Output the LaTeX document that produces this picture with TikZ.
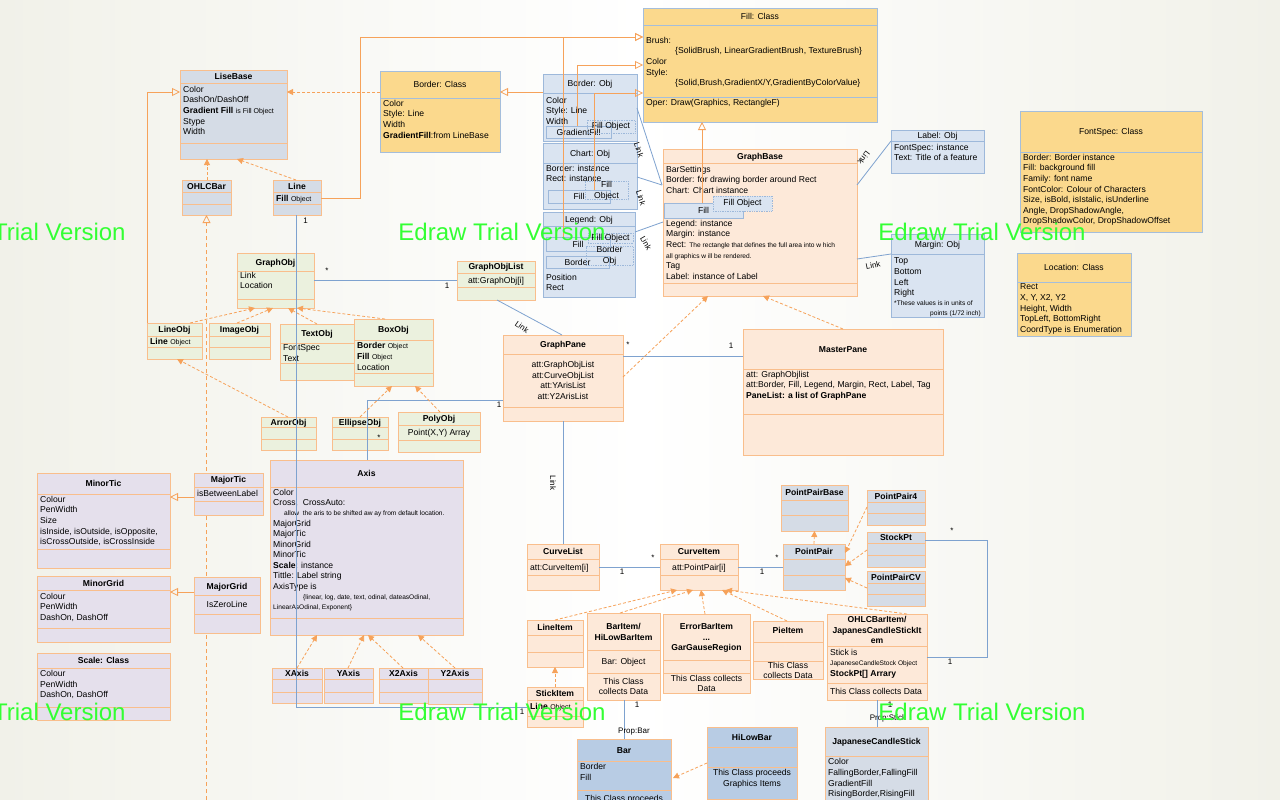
\documentclass[tikz,border=0pt]{standalone}
\usepackage{fontspec}
\setmainfont{Liberation Sans}
\usetikzlibrary{arrows.meta,fit,calc}
\definecolor{bgc}{HTML}{F1F1E9}
\definecolor{cY}{HTML}{FBD98D}
\definecolor{cYb}{HTML}{A5BEDB}
\definecolor{cOB}{HTML}{DAE4F1}
\definecolor{cOBb}{HTML}{9DB8DA}
\definecolor{cG}{HTML}{D5DCE6}
\definecolor{cP}{HTML}{FDE9D9}
\definecolor{cGr}{HTML}{EBF1DE}
\definecolor{cL}{HTML}{E5E0EC}
\definecolor{cB}{HTML}{B8CCE4}
\definecolor{cOr}{HTML}{F9BE8C}
\definecolor{cAr}{HTML}{F6A25A}
\definecolor{cBl}{HTML}{7EA2CF}
\definecolor{cWm}{HTML}{33FF33}
\newcommand\bodyfont{\fontsize{8.6}{10.6}\selectfont}
\newcommand\smf{\fontsize{6.6}{10.6}\selectfont}
\newcommand\smo{\fontsize{7}{10.6}\selectfont}
\tikzset{
  bxbase/.style={inner sep=0pt, outer sep=0pt, line width=0.8pt},
  yel/.style={bxbase, fill=cY, draw=cYb},
  obj/.style={bxbase, fill=cOB, draw=cOBb},
  gry/.style={bxbase, fill=cG, draw=cOr},
  pch/.style={bxbase, fill=cP, draw=cOr},
  grn/.style={bxbase, fill=cGr, draw=cOr},
  lav/.style={bxbase, fill=cL, draw=cOr},
  bbl/.style={bxbase, fill=cB, draw=cOr},
  dotb/.style={draw=cOBb, densely dotted, line width=0.7pt, inner sep=0pt},
  ttl/.style={anchor=base, inner sep=0pt, font=\bodyfont\bfseries},
  ttn/.style={anchor=base, inner sep=0pt},
  att/.style={anchor=north west, inner sep=0pt, align=left},
  atc/.style={anchor=north, inner sep=0pt, align=center},
  lbl/.style={inner sep=0pt, font=\fontsize{8}{9}\selectfont},
  inh/.style={draw=cAr, line width=0.8pt, dash pattern=on 3pt off 2pt, -{Triangle[length=6pt,width=6pt]}},
  gen/.style={draw=cAr, line width=0.8pt, -{Triangle[open,length=8pt,width=8pt]}},
  asc/.style={draw=cBl, line width=0.8pt},
  wm/.style={inner sep=0pt, anchor=base, text=cWm, font=\fontsize{24}{24}\selectfont}
}
\newcommand\ubox[8]{\node[#2, fit={(#3,#4)(#5,#6)}] (#1) {};
  \draw[#2, fill=none] (#3,#7) -- (#5,#7) (#3,#8) -- (#5,#8);}
\begin{document}
\begin{tikzpicture}[x=1pt,y=-1pt,font=\bodyfont]
\useasboundingbox (0,0) rectangle (1280,800);
\clip (0,0) rectangle (1280,800);
\fill[left color=bgc, right color=bgc, middle color=white] (0,0) rectangle (1280,800);
\coordinate (bot1) at (206.5,800);
% ---------- boxes ----------
\ubox{OB}{gry}{182}{180}{231}{215}{192}{204}
\draw[gen, dash pattern=on 4pt off 3pt] (bot1) -- ($(OB.south west)+(24.5,0)$);
\ubox{LB}{gry}{180}{70}{287}{159}{83.3}{143.3}
\node[ttl] (LBt) at (233.5,79.8) {LiseBase};
\node[att] (LBa) at (183,85.9) {Color\\DashOn/DashOff\\\textbf{Gradient Fill} {\smo is Fill Object}\\Stype\\Width};
\node[ttl] (OBt) at (206.5,189.1) {OHLCBar};
\ubox{LN}{gry}{273}{180}{321}{215}{192}{204}
\node[ttl] (LNt) at (297,189.1) {Line};
\node[att] (LNa) at (276,194.8) {\textbf{Fill} {\smo Object}};

\ubox{BC}{yel}{380}{71}{500}{152}{98}{98}
\node[ttn] (BCt) at (440,87.6) {Border: Class};
\node[att] (BCa) at (383,99.8) {Color\\Style: Line\\Width\\\textbf{GradientFill}:from LineBase};

\ubox{BO}{obj}{543}{74}{637}{141}{93}{93}
\node[ttn] (BOt) at (590,86.6) {Border: Obj};
\node[att] (BOa) at (546,96.8) {Color\\Style: Line\\Width};
\node[obj, minimum width=65pt, minimum height=12pt] (BOg) at (578.5,132) {GradientFill};
\node[dotb, minimum width=48pt, minimum height=13pt] (BOd) at (611,126.5) {Fill Object};

\ubox{CO}{obj}{543}{143}{637}{209}{163}{163}
\node[ttn] (COt) at (590,156.1) {Chart: Obj};
\node[att] (COa) at (546,164.8) {Border: instance\\Rect: instance};
\node[obj, minimum width=62pt, minimum height=13pt] (COf) at (579,196.5) {Fill};
\node[dotb, minimum width=43pt, minimum height=17pt, align=center] (COd) at (606.5,190.5) {Fill\\Object};

\ubox{LO}{obj}{543}{212}{635}{297}{226}{226}
\node[ttn] (LOt) at (589,222.1) {Legend: Obj};
\node[obj, minimum width=64pt, minimum height=14pt] (LOf) at (578,244) {Fill};
\node[obj, minimum width=63pt, minimum height=12pt] (LOb) at (577.5,262) {Border};
\node[dotb, minimum width=45pt, minimum height=10pt] (LOd) at (610.5,238) {Fill Object};
\node[dotb, minimum width=47pt, minimum height=16pt, align=center] (LOe) at (609.5,256) {Border\\Obj};
\node[att] (LOa) at (546,273.8) {Position\\Rect};

\ubox{FC}{yel}{643}{8}{877}{122}{25}{97}
\node[ttn] (FCt) at (760,19.6) {Fill: Class};
\node[att] (FCa) at (646,36.8) {Brush:\\\hspace*{29pt}\{SolidBrush, LinearGradientBrush, TextureBrush\}\\Color\\Style:\\\hspace*{29pt}\{Solid,Brush,GradientX/Y,GradientByColorValue\}};
\node[att] (FCo) at (646,98.8) {Oper: Draw(Graphics, RectangleF)};

\ubox{GB}{pch}{663}{149}{857}{296}{163}{283}
\node[ttl] (GBt) at (760,159.1) {GraphBase};
\node[att] (GBa) at (666,165.8) {BarSettings\\Border: for drawing border around Rect\\Chart: Chart instance};
\node[att] (GBb) at (666,219.8) {Legend: instance\\Margin: instance\\Rect: {\smf The rectangle that defines the full area into w hich}\\{\smf all graphics w ill be rendered.}\\Tag\\Label: instance of Label};
\node[obj, minimum width=79pt, minimum height=15pt] (GBf) at (703.5,210.5) {Fill};
\node[dotb, fill=cOB, minimum width=59pt, minimum height=15pt] (GBd) at (742.5,203.5) {Fill Object};

\ubox{LBO}{obj}{891}{130}{984}{173}{141}{141}
\node[ttn] (LBOt) at (937.5,138.6) {Label: Obj};
\node[att] (LBOa) at (894,143.8) {FontSpec: instance\\Text: Title of a feature};

\ubox{MO}{obj}{891}{234}{984}{317}{254}{254}
\node[ttn] (MOt) at (937.5,247.1) {Margin: Obj};
\node[att] (MOa) at (894,257.8) {Top\\Bottom\\Left\\Right};
\node[att, font=\smf] (MOb) at (894,300.6) {*These values is in units of};
\node[anchor=north east, inner sep=0pt, font=\smf] (MOc) at (981,310.6) {points (1/72 inch)};

\ubox{FS}{yel}{1020}{111}{1202}{232}{152}{152}
\node[ttn] (FSt) at (1111,134.6) {FontSpec: Class};
\node[att] (FSa) at (1023,153.8) {Border: Border instance\\Fill: background fill\\Family: font name\\FontColor: Colour of Characters\\Size, isBold, isIstalic, isUnderline\\Angle, DropShadowAngle,\\DropShadowColor, DropShadowOffset};

\ubox{LC}{yel}{1017}{253}{1131}{336}{282}{282}
\node[ttn] (LCt) at (1074,270.6) {Location: Class};
\node[att] (LCa) at (1020,283.8) {Rect\\X, Y, X2, Y2\\Height, Width\\TopLeft, BottomRight\\CoordType is Enumeration};

\ubox{GO}{grn}{237}{253}{314}{308}{271}{299}
\node[ttl] (GOt) at (275.5,265.1) {GraphObj};
\node[att] (GOa) at (240,271.8) {Link\\Location};

\ubox{GOL}{grn}{457}{261}{535}{300}{273}{287}
\node[ttl] (GOLt) at (496,269.1) {GraphObjList};
\node[ttn] (GOLa) at (496,283.1) {att:GraphObj[i]};

\ubox{LOB}{grn}{147}{323}{202}{359}{336}{347}
\node[ttl] (LOBt) at (174.5,332.6) {LineObj};
\node[att] (LOBa) at (150,337.8) {\textbf{Line} {\smo Object}};
\ubox{IO}{grn}{209}{323}{270}{359}{336}{347}
\node[ttl] (IOt) at (239.5,332.6) {ImageObj};
\ubox{TO}{grn}{280}{324}{354}{380}{343}{363}
\node[ttl] (TOt) at (317,336.6) {TextObj};
\node[att] (TOa) at (283,344.6) {FontSpec\\Text};
\ubox{BX}{grn}{354}{319}{433}{386}{340}{373}
\node[ttl] (BXt) at (393.5,332.1) {BoxObj};
\node[att] (BXa) at (357,342.5) {\textbf{Border} {\smo Object}\\\textbf{Fill} {\smo Object}\\Location};
\ubox{AO}{grn}{261}{417}{316}{450}{427}{439}
\node[ttl] (AOt) at (288.5,425.1) {ArrorObj};
\ubox{EO}{grn}{332}{417}{388}{450}{427}{439}
\node[ttl] (EOt) at (360,425.1) {EllipseObj};
\ubox{PO}{grn}{398}{412}{480}{452}{425}{440}
\node[ttl] (POt) at (439,421.6) {PolyObj};
\node[ttn] (POa) at (439,435.6) {Point(X,Y) Array};

\ubox{GP}{pch}{503}{335}{623}{421}{354}{407}
\node[ttl] (GPt) at (563,347.1) {GraphPane};
\node[atc] (GPa) at (563,361.2) {att:GraphObjList\\att:CurveObjList\\att:YArisList\\att:Y2ArisList};
\ubox{MP}{pch}{743}{329}{943}{455}{369}{414}
\node[ttl] (MPt) at (843,352.1) {MasterPane};
\node[att] (MPa) at (746,370.8) {att: GraphObjlist\\att:Border, Fill, Legend, Margin, Rect, Label, Tag\\\textbf{PaneList: a list of GraphPane}};

\ubox{MT}{lav}{37}{473}{170}{568}{494}{549}
\node[ttl] (MTt) at (103.5,486.1) {MinorTic};
\node[att] (MTa) at (40,495.8) {Colour\\PenWidth\\Size\\isInside, isOutside, isOpposite,\\isCrossOutside, isCrossInside};
\ubox{MJT}{lav}{194}{473}{263}{515}{487}{501}
\node[ttl] (MJTt) at (228.5,482.1) {MajorTic};
\node[att] (MJTa) at (197,490.1) {isBetweenLabel};
\ubox{MG}{lav}{37}{576}{170}{642}{590}{628}
\node[ttl] (MGt) at (103.5,586.1) {MinorGrid};
\node[att] (MGa) at (40,592.6) {Colour\\PenWidth\\DashOn, DashOff};
\ubox{MJG}{lav}{194}{577}{260}{633}{595}{614}
\node[ttl] (MJGt) at (227,589.1) {MajorGrid};
\node[ttn] (MJGa) at (227,607.6) {IsZeroLine};
\ubox{SC}{lav}{37}{653}{170}{720}{668}{707}
\node[ttl] (SCt) at (103.5,663.6) {Scale: Class};
\node[att] (SCa) at (40,670.2) {Colour\\PenWidth\\DashOn, DashOff};

\ubox{AX}{lav}{270}{460}{463}{635}{487}{618}
\node[ttl] (AXt) at (366.5,476.6) {Axis};
\node[att, font=\fontsize{8.6}{10.45}\selectfont] (AXa) at (273,488.6) {Color\\Cross,\ \ CrossAuto:\\\hspace*{11pt}{\smf allow\ \ the aris to be shifted aw ay from default location.}\\MajorGrid\\MajorTic\\MinorGrid\\MinorTic\\\textbf{Scale}: instance\\Tittle: Label string\\AxisType is\\\hspace*{30pt}{\smf \{linear, log, date, text, odinal, dateasOdinal,}\\{\smf LinearAsOdinal, Exponent\}}};
\ubox{XA}{lav}{272}{668}{322}{703}{679}{692}
\node[ttl] (XAt) at (297,676.6) {XAxis};
\ubox{YA}{lav}{324}{668}{373}{703}{679}{692}
\node[ttl] (YAt) at (348.5,676.6) {YAxis};
\ubox{XB}{lav}{379}{668}{428}{703}{679}{692}
\node[ttl] (XBt) at (403.5,676.6) {X2Axis};
\ubox{YB}{lav}{428}{668}{482}{704}{679}{692}
\node[ttl] (YBt) at (455,676.6) {Y2Axis};

\ubox{CL}{pch}{527}{544}{599}{590}{559}{575}
\node[ttl] (CLt) at (563,554.6) {CurveList};
\node[att] (CLa) at (530,563.6) {att:CurveItem[i]};
\ubox{CI}{pch}{660}{544}{738}{590}{559}{575}
\node[ttl] (CIt) at (699,554.6) {CurveItem};
\node[ttn] (CIa) at (699,570) {att:PointPair[i]};
\ubox{PP}{gry}{783}{544}{845}{590}{559}{575}
\node[ttl] (PPt) at (814,554.6) {PointPair};
\ubox{PPB}{gry}{781}{485}{848}{531}{500}{515}
\node[ttl] (PPBt) at (814.5,495.1) {PointPairBase};
\ubox{PPF}{gry}{867}{490}{925}{525}{502}{513}
\node[ttl] (PPFt) at (896,499.1) {PointPair4};
\ubox{SP}{gry}{867}{532}{925}{567}{543}{555}
\node[ttl] (SPt) at (896,540.6) {StockPt};
\ubox{PCV}{gry}{867}{571}{925}{606}{583}{594}
\node[ttl] (PCVt) at (896,580.1) {PointPairCV};

\ubox{LI}{pch}{527}{620}{583}{667}{635}{652}
\node[ttl] (LIt) at (555,630.8) {LineItem};
\ubox{BI}{pch}{587}{613}{660}{700}{650}{673}
\node[ttl, align=center, anchor=north] (BIt) at (623.5,623.2) {BarItem/\\HiLowBarItem};
\node[ttn] (BIa) at (623.5,664.4) {Bar: Object};
\node[atc] (BIo) at (623.5,677.8) {This Class\\collects Data};
\ubox{EB}{pch}{663}{614}{750}{693}{660}{673}
\node[ttl, align=center, anchor=north] (EBt) at (706.5,623.5) {ErrorBarItem\\...\\GarGauseRegion};
\node[atc] (EBo) at (706.5,674.6) {This Class collects\\Data};
\ubox{PI}{pch}{753}{621}{823}{679}{642}{661}
\node[ttl] (PIt) at (788,633.1) {PieItem};
\node[atc] (PIo) at (788,661.8) {This Class\\collects Data};
\ubox{OI}{pch}{827}{614}{927}{700}{646}{683}
\node[ttl, align=center, anchor=north] (OIt) at (877,616.2) {OHLCBarItem/\\JapanesCandleStickIt\\em};
\node[att] (OIa) at (830,648.6) {Stick is\\{\smf JapaneseCandleStock Object}\\\textbf{StockPt[] Arrary}};
\node[att] (OIo) at (830,687.6) {This Class collects Data};
\ubox{STI}{pch}{527}{687}{583}{727}{700}{716}
\node[ttl] (STIt) at (555,696.1) {StickItem};
\node[att] (STIa) at (530,703.5) {\textbf{Line} {\smo Object}};

\ubox{BR}{bbl}{577}{739}{671}{815}{761}{790}
\node[ttl] (BRt) at (624,753.1) {Bar};
\node[att] (BRa) at (580,763.5) {Border\\Fill};
\node[ttn] (BRo) at (624,801.4) {This Class proceeds};
\ubox{HB}{bbl}{707}{727}{797}{815}{747}{767}
\draw[bbl, fill=none] (707,799) -- (797,799);
\node[ttl] (HBt) at (752,740.1) {HiLowBar};
\node[atc] (HBo) at (752,769.1) {This Class proceeds\\Graphics Items};
\ubox{JC}{gry}{825}{727}{928}{815}{756}{756}
\node[ttl] (JCt) at (876.5,744.6) {JapaneseCandleStick};
\node[att] (JCa) at (828,758.5) {Color\\FallingBorder,FallingFill\\GradientFill\\RisingBorder,RisingFill};

% ---------- connectors ----------
\draw[inh] ($(OB.north west)+(25,0)$) -- ($(LB.south west)+(27,0)$);
\draw[inh] ($(LN.north west)+(23,0)$) -- ($(LB.south west)+(57,0)$);
\draw[inh] ($(BC.north west)+(0,21)$) -- ($(LB.north east)+(0,22)$);
\draw[gen] ($(LN.north east)+(0,18)$) -- ++(39,0) |- ($(FC.north west)+(0,29)$);
\draw[gen] (LOB.north west) |- ($(LB.north west)+(0,22)$);
\draw[asc] ($(LN.south west)+(23.5,0)$) |- ($(STI.north west)+(0,20)$);
\draw[gen] ($(BO.north west)+(0,18)$) -- ($(BC.north east)+(0,21)$);
\draw[gen] ($(BOg.north west)+(31,0)$) |- ($(FC.north west)+(0,57)$);
\draw[gen] ($(COf.north west)+(46,0)$) |- ($(FC.north west)+(0,85)$);
\draw[gen] ($(LOf.north west)+(17,0)$) |- ($(FC.north west)+(0,29)$);
\draw[gen] ($(GBf.north west)+(38,0)$) -- ($(FC.south west)+(59,0)$);
\draw[asc] ($(BO.north east)+(0,34)$) -- ($(GB.north west)+(-1,36)$);
\draw[asc] ($(CO.north east)+(0,34)$) -- ($(GB.north west)+(-1,36)$);
\draw[asc] ($(LO.north east)+(0,20)$) -- ($(GB.north west)+(0,73)$);
\draw[asc] ($(GB.north east)+(0,36)$) -- ($(LBO.north west)+(0,11)$);
\draw[asc] ($(GB.north east)+(0,110)$) -- ($(MO.north west)+(0,20)$);
\draw[asc] ($(GO.north east)+(0,27)$) -- ($(GOL.north west)+(0,19)$);
\draw[asc] ($(GOL.south west)+(40,0)$) -- ($(GP.north west)+(59,0)$);
\draw[asc] ($(GP.north west)+(0,65)$) -| ($(AX.north west)+(97,0)$);
\draw[asc] ($(GP.north east)+(0,21)$) -- ($(MP.north west)+(0,27)$);
\draw[inh] ($(GP.north east)+(0,42)$) -- ($(GB.south west)+(45,0)$);
\draw[inh] ($(MP.north west)+(100,0)$) -- ($(GB.south west)+(100,0)$);
\draw[asc] ($(GP.south west)+(60,0)$) -- ($(CL.north west)+(36,0)$);
\draw[inh] ($(LOB.north west)+(43,0)$) -- ($(GO.south west)+(18,0)$);
\draw[inh] ($(IO.north west)+(28,0)$) -- ($(GO.south west)+(36,0)$);
\draw[inh] ($(TO.north west)+(37,0)$) -- ($(GO.south west)+(51,0)$);
\draw[inh] ($(BX.north west)+(31,0)$) -- ($(GO.south west)+(60,0)$);
\draw[inh] ($(AO.north west)+(27,0)$) -- ($(LOB.south west)+(30,0)$);
\draw[inh] ($(EO.north west)+(28,0)$) -- ($(BX.south west)+(38,0)$);
\draw[inh] ($(PO.north west)+(42,0)$) -- ($(BX.south west)+(61,0)$);
\draw[gen] ($(MJT.north west)+(0,24)$) -- ($(MT.north east)+(0,24)$);
\draw[gen] ($(MJG.north west)+(0,15)$) -- ($(MG.north east)+(0,16)$);
\draw[inh] ($(XA.north west)+(25,0)$) -- ($(AX.south west)+(47,0)$);
\draw[inh] ($(YA.north west)+(24,0)$) -- ($(AX.south west)+(94,0)$);
\draw[inh] ($(XB.north west)+(24,0)$) -- ($(AX.south west)+(98,0)$);
\draw[inh] ($(YB.north west)+(27,0)$) -- ($(AX.south west)+(148,0)$);
\draw[asc] ($(CL.north east)+(0,23)$) -- ($(CI.north west)+(0,23)$);
\draw[asc] ($(CI.north east)+(0,23)$) -- ($(PP.north west)+(0,23)$);
\draw[inh] (PP.north) -- (PPB.south);
\draw[inh] ($(PPF.north west)+(0,17)$) -- ($(PP.north east)+(0,9)$);
\draw[inh] ($(SP.north west)+(0,18)$) -- ($(PP.north east)+(0,22)$);
\draw[inh] ($(PCV.north west)+(0,17)$) -- ($(PP.north east)+(0,34)$);
\draw[asc] ($(SP.north east)+(0,8)$) -- ++(62,0) |- ($(OI.north east)+(0,43)$);
\draw[inh] ($(LI.north west)+(28,0)$) -- ($(CI.south west)+(17,0)$);
\draw[inh] ($(BI.north west)+(33,0)$) -- ($(CI.south west)+(33,0)$);
\draw[inh] ($(EB.north west)+(42,0)$) -- ($(CI.south west)+(41,0)$);
\draw[inh] ($(PI.north west)+(34,0)$) -- ($(CI.south west)+(62,0)$);
\draw[inh] ($(OI.north west)+(80,0)$) -- ($(CI.south west)+(66,0)$);
\draw[inh] ($(STI.north west)+(28,0)$) -- ($(LI.south west)+(28,0)$);
\draw[asc] ($(BI.south west)+(37,0)$) -- ($(BR.north west)+(47,0)$);
\draw[inh] ($(HB.north west)+(0,36)$) -- ($(BR.north east)+(2,39)$);
\draw[asc] ($(OI.south west)+(50,0)$) -- ($(JC.north west)+(52,0)$);

% ---------- connector labels ----------
\node[lbl] (m1) at (305.5,221) {1};
\node[lbl] (m2) at (522,712) {1};
\node[lbl, rotate=-72] (k1) at (639,150) {Link};
\node[lbl, rotate=-72] (k2) at (641,198) {Link};
\node[lbl, rotate=-60] (k3) at (646,243) {Link};
\node[lbl, rotate=-128] (k4) at (864,158) {Link};
\node[lbl, rotate=12] (k5) at (873,265) {Link};
\node[lbl] (m3) at (327,271) {*};
\node[lbl] (m4) at (447,286) {1};
\node[lbl, rotate=-35] (k6) at (522,327) {Link};
\node[lbl] (m5) at (499,405) {1};
\node[lbl] (m6) at (379,438) {*};
\node[lbl] (m7) at (628,345) {*};
\node[lbl] (m8) at (731,346) {1};
\node[lbl, rotate=-90] (k7) at (553,483) {Link};
\node[lbl] (m9) at (622,572) {1};
\node[lbl] (m10) at (653,558) {*};
\node[lbl] (m11) at (762,572) {1};
\node[lbl] (m12) at (777,558) {*};
\node[lbl] (m13) at (952,531) {*};
\node[lbl] (m14) at (950,662) {1};
\node[lbl] (m15) at (637,705) {1};
\node[lbl] (k8) at (634,732) {Prop:Bar};
\node[lbl] (m16) at (890,705) {1};
\node[lbl] (k9) at (888,718) {Prop:Stick};

% ---------- watermark ----------
\node[wm] (w1) at (22,240) {Edraw Trial Version};
\node[wm] (w2) at (502,240) {Edraw Trial Version};
\node[wm] (w3) at (982,240) {Edraw Trial Version};
\node[wm] (w4) at (1462,240) {Edraw Trial Version};
\node[wm] (w5) at (22,720) {Edraw Trial Version};
\node[wm] (w6) at (502,720) {Edraw Trial Version};
\node[wm] (w7) at (982,720) {Edraw Trial Version};
\node[wm] (w8) at (1462,720) {Edraw Trial Version};
\end{tikzpicture}
\end{document}
